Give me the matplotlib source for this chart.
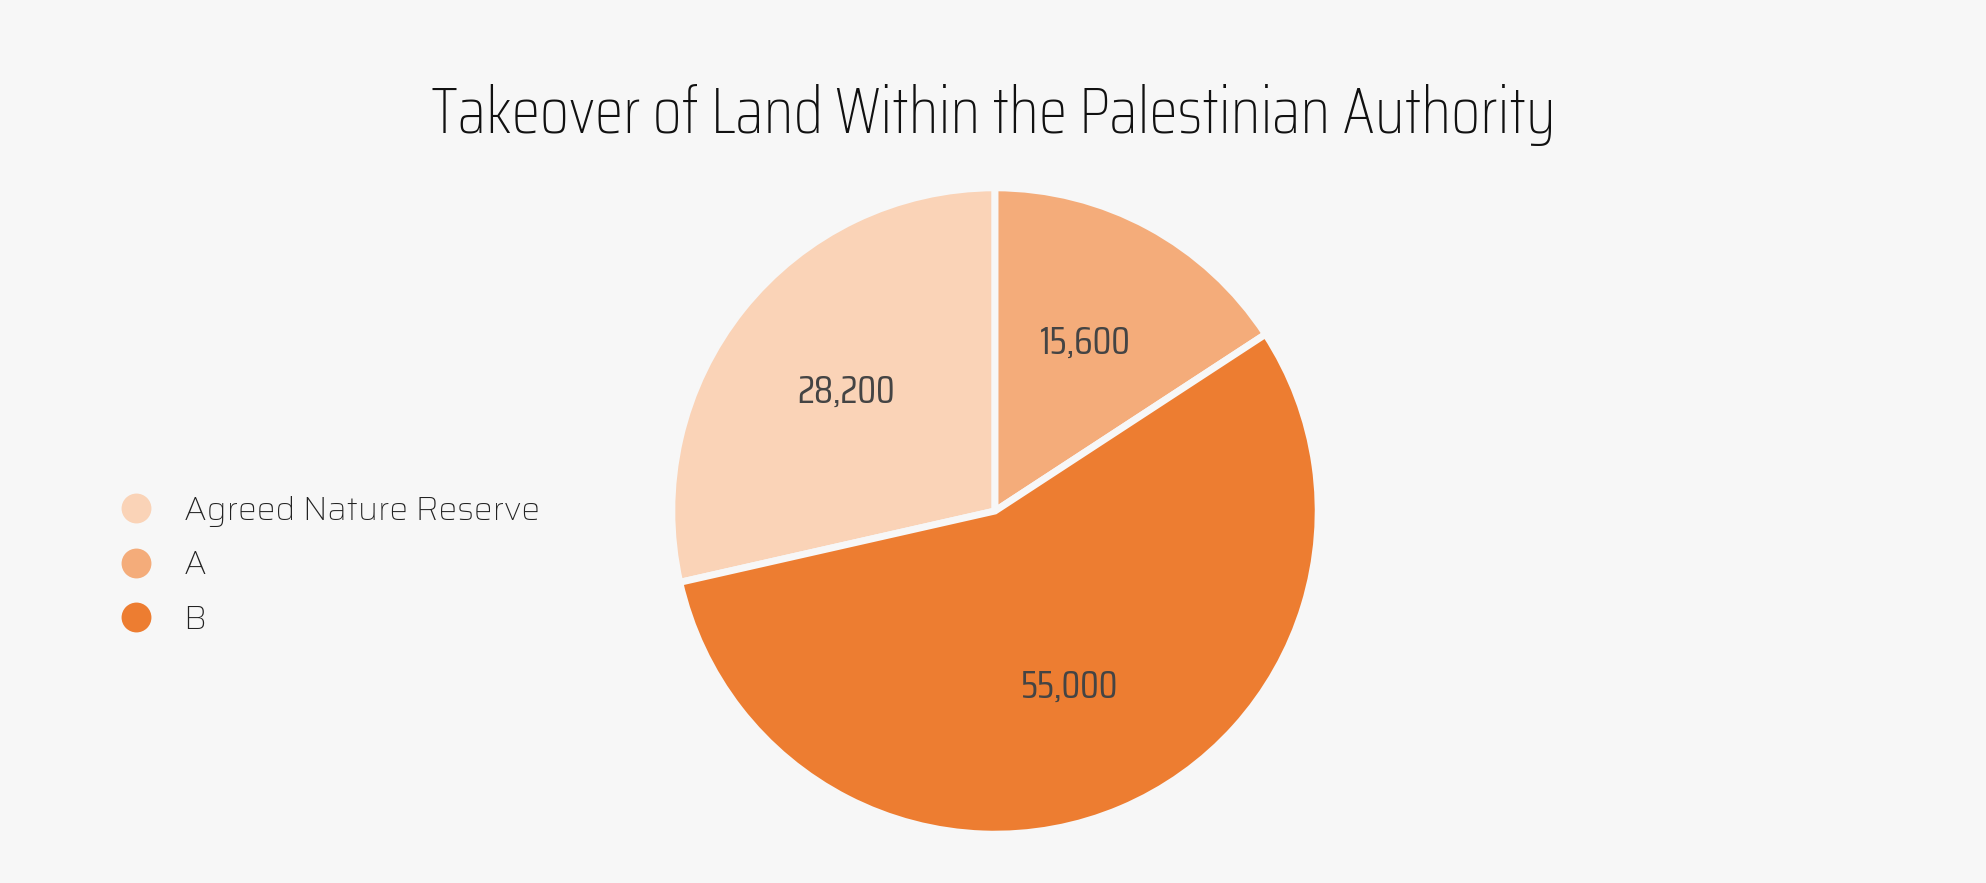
import matplotlib.pyplot as plt
from matplotlib.lines import Line2D

# data
labels = ['Agreed Nature Reserve', 'A', 'B']
values = [28200, 15600, 55000]
value_labels = ['28,200', '15,600', '55,000']
colors = ['#FAD3B7', '#F4AC7A', '#ED7D31']

W, H = 1986, 883
bg = '#F7F7F7'
cond = ['Saira Condensed', 'DejaVu Sans']

fig = plt.figure(figsize=(W / 100, H / 100), dpi=100, facecolor=bg)

# pie: centre (995, 511) px, radius 320 px
cx, cy, r = 995, 511, 320
ax = fig.add_axes([(cx - r) / W, (H - cy - r) / H, 2 * r / W, 2 * r / H])
ax.set_facecolor(bg)

# slices go clockwise from the top: A, B, then Agreed Nature Reserve
start = 90 + 360 * values[0] / sum(values)
wedges, texts = ax.pie(values, colors=colors, startangle=start, counterclock=False,
                       labels=value_labels, labeldistance=0.59, radius=1.01,
                       wedgeprops=dict(edgecolor=bg, linewidth=5))
for t in texts:
    t.set_ha('center')
    t.set_va('center')
    t.set_fontsize(28)
    t.set_color('#444444')
    t.set_family(cond)
ax.set_xlim(-1, 1)
ax.set_ylim(-1, 1)
ax.set_aspect('equal')
ax.axis('off')

fig.text(993 / W, (H - 133) / H, 'Takeover of Land Within the Palestinian Authority',
         ha='center', va='baseline', fontsize=47, color='#111111',
         family=cond, weight='light')

handles = [Line2D([], [], marker='o', linestyle='none', markersize=21.5,
                  markerfacecolor=c, markeredgecolor='none') for c in colors]
fig.legend(handles, labels, loc='center left',
           bbox_to_anchor=(119.5 / W, (H - 566) / H),
           frameon=False, borderpad=0, borderaxespad=0,
           handlelength=1.0, handletextpad=0.92, labelspacing=0.7,
           labelcolor='#222222',
           prop=dict(family=['Saira', 'DejaVu Sans'], size=24))

fig.savefig('out.png', dpi=100, facecolor=bg)
